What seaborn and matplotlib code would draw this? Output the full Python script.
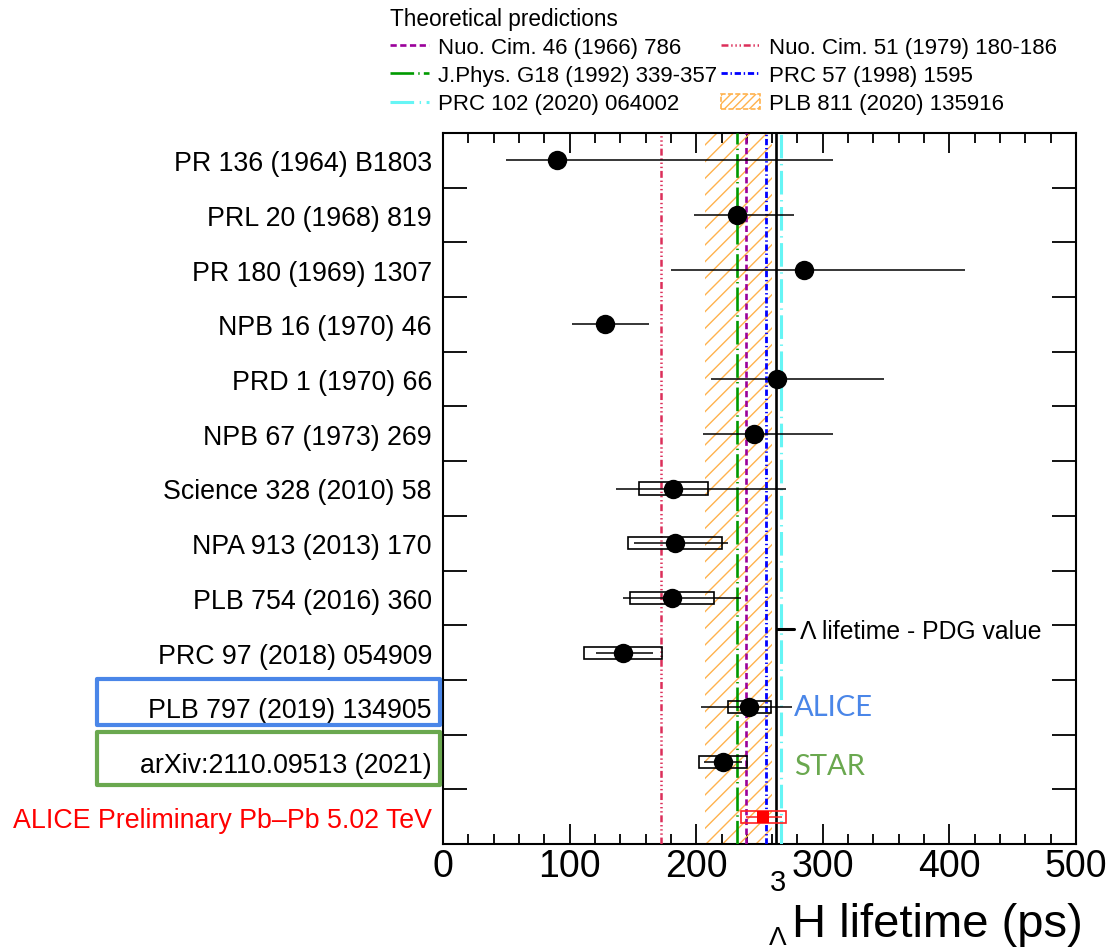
import numpy as np
import pandas as pd
import matplotlib
matplotlib.use("Agg")
import matplotlib.pyplot as plt
import matplotlib.patches as mpatches
import matplotlib.transforms as mtransforms
from matplotlib.lines import Line2D
from matplotlib.ticker import MultipleLocator, FixedLocator
import seaborn as sns

# ---- measurements of the hypertriton lifetime (ps) ----
labels = ["PR 136 (1964) B1803", "PRL 20 (1968) 819", "PR 180 (1969) 1307",
          "NPB 16 (1970) 46", "PRD 1 (1970) 66", "NPB 67 (1973) 269",
          "Science 328 (2010) 58", "NPA 913 (2013) 170", "PLB 754 (2016) 360",
          "PRC 97 (2018) 054909", "PLB 797 (2019) 134905",
          "arXiv:2110.09513 (2021)", "ALICE Preliminary Pb\u2013Pb 5.02 TeV"]
lifetime = [90, 232, 285, 128, 264, 246, 182, 183, 181, 142, 242, 221, 253]
stat_hi = [218, 45, 127, 35, 84, 62, 89, 42, 54, 24, 34, 15, 15]
stat_lo = [40, 34, 105, 26, 52, 41, 45, 32, 39, 21, 38, 15, 14]
syst = [np.nan, np.nan, np.nan, np.nan, np.nan, np.nan, 27, 37, 33, 31, 17, 19, 18]

# ---- theoretical predictions (ps) ----
theory_labels = ["Nuo. Cim. 46 (1966) 786", "J.Phys. G18 (1992) 339-357",
                 "PRC 102 (2020) 064002", "Nuo. Cim. 51 (1979) 180-186",
                 "PRC 57 (1998) 1595"]
theory_values = [239, 232, 267, 172, 255]
band_label = "PLB 811 (2020) 135916"
band_range = [207, 260]
pdg_lambda = 263.2

sns.set_theme(style="ticks")
plt.rcParams["font.family"] = ["Liberation Sans", "DejaVu Sans"]
plt.rcParams["lines.scale_dashes"] = False
plt.rcParams["hatch.linewidth"] = 1.0
for key in ("text.color", "axes.labelcolor", "xtick.color", "ytick.color",
            "axes.edgecolor", "legend.labelcolor"):
    plt.rcParams[key] = "black"

df = pd.DataFrame({"label": labels, "row": np.arange(len(labels)),
                   "tau": lifetime, "lo": stat_lo, "hi": stat_hi, "syst": syst})
prev = df.iloc[:-1]
prel = df.iloc[-1:]
withsys = prev.dropna(subset=["syst"])

W, H = 1106, 953
fig = plt.figure(figsize=(W / 100, H / 100), dpi=100)
ax = fig.add_axes([443 / W, 1 - 845 / H, 633 / W, 711 / H])

# theory band and lines
ax.axvspan(band_range[0], band_range[1], facecolor="none", edgecolor="#ffb24d",
           hatch="//", linewidth=0, zorder=1)
styles = [
    dict(color="#9b009b", lw=1.9, dashes=(4.5, 2.5)),
    dict(color="#009a00", lw=1.9, dashes=(17, 3, 1, 3)),
    dict(color="#66f5f5", lw=2.2, dashes=(17, 4, 1, 4)),
    dict(color="#dc2f5a", lw=1.8, dashes=(5, 2, 1, 2, 1, 2, 1, 2)),
    dict(color="#0000ff", lw=2.0, dashes=(4.5, 2, 1, 2)),
]
handles = []
for val, st, lab in zip(theory_values, styles, theory_labels):
    ax.axvline(val, zorder=3, **st)
    handles.append(Line2D([], [], label=lab, **st))
band_handle = mpatches.Patch(facecolor="none", edgecolor="#ffb24d", hatch="////",
                             linestyle="--", linewidth=1.2, label=band_label)
handles.append(band_handle)

ax.axvline(pdg_lambda, color="black", lw=1.9, zorder=3)

# statistical error bars
ax.errorbar(prev["tau"], prev["row"], xerr=[prev["lo"], prev["hi"]], fmt="none",
            ecolor="black", elinewidth=1.1, capsize=0, zorder=4)
ax.errorbar(prel["tau"], prel["row"], xerr=[prel["lo"], prel["hi"]], fmt="none",
            ecolor="#ff2020", elinewidth=1.1, capsize=0, zorder=4)

# systematic boxes
ax.barh(withsys["row"], 2 * withsys["syst"], left=withsys["tau"] - withsys["syst"],
        height=0.22, fill=False, edgecolor="black", linewidth=1.2, zorder=5)
ax.barh(prel["row"], 2 * prel["syst"], left=prel["tau"] - prel["syst"],
        height=0.22, fill=False, edgecolor="#ff2020", linewidth=1.2, zorder=5)

# central values
sns.scatterplot(data=prev, x="tau", y="row", s=195, color="black", edgecolor="black",
                linewidth=0, zorder=6, ax=ax, legend=False)
sns.scatterplot(data=prel, x="tau", y="row", s=64, marker="s", color="#ff0000",
                edgecolor="#ff0000", linewidth=0, zorder=6, ax=ax, legend=False)

# axes
ax.set_xlim(0, 500)
ax.set_ylim(len(labels) - 0.5, -0.5)
ax.xaxis.set_major_locator(MultipleLocator(100))
ax.xaxis.set_minor_locator(MultipleLocator(20))
ax.tick_params(axis="x", which="major", direction="in", length=14.5, width=1.3,
               top=True, bottom=True, labelsize=27, pad=3, colors="black")
ax.tick_params(axis="x", which="minor", direction="in", length=7, width=1.3,
               top=True, bottom=True, colors="black")
ax.set_yticks(df["row"])
ax.set_yticklabels(labels)
ax.yaxis.set_minor_locator(FixedLocator(df["row"].values[:-1] + 0.5))
ax.tick_params(axis="y", which="major", length=0, pad=8, labelsize=19.3, colors="black")
ax.tick_params(axis="y", which="minor", direction="in", length=17, width=1.3,
               left=True, right=True, colors="black")
ax.get_yticklabels()[-1].set_color("#ff0000")
for sp in ax.spines.values():
    sp.set_linewidth(1.5)
    sp.set_color("black")
ax.set_xlabel("")
ax.set_ylabel("")

# axis title: hypertriton symbol with mass number above and Lambda below
fig.text(1083 / W, 1 - 937 / H, "H lifetime (ps)", ha="right", va="baseline",
         fontsize=34)
fig.text(778 / W, 1 - 883 / H, "3", ha="center", va="center", fontsize=21)
fig.text(778 / W, 1 - 938 / H, "\u039b", ha="center", va="center", fontsize=19)

# highlighted labels
blend = mtransforms.blended_transform_factory(ax.transAxes, ax.transData)
blue, green = "#4a86e8", "#6aa84f"
for (y0, y1), col in [((9.48, 10.33), blue), ((10.45, 11.42), green)]:
    ax.add_patch(mpatches.Rectangle((-0.5466, y0), 0.5419, y1 - y0, transform=blend,
                                    fill=False, edgecolor=col, linewidth=3.0,
                                    joinstyle="round", clip_on=False, zorder=10))
ax.text(277, 10.0, "ALICE", color=blue, fontsize=21, family="Lato", va="center", ha="left")
ax.text(277, 11.07, "STAR", color=green, fontsize=21, family="Lato", va="center", ha="left")

# PDG value entry
ax.legend([Line2D([], [], color="black", lw=2.2)], ["\u039b lifetime - PDG value"],
          loc="center left", bbox_to_anchor=(0.527, 0.300), frameon=False,
          fontsize=17.8, handlelength=0.7, handletextpad=0.25, borderpad=0,
          borderaxespad=0)

# theory legend
fig.legend(handles=handles, labels=[h.get_label() for h in handles], ncol=2,
           title="Theoretical predictions", title_fontsize=16.3, fontsize=16.0,
           alignment="left", frameon=False, loc="upper left",
           bbox_to_anchor=(390 / W, 1 - 8 / H), borderpad=0, borderaxespad=0,
           handlelength=1.75, handletextpad=0.4, columnspacing=0.2, labelspacing=0.32)

fig.savefig("out.png", dpi=100)
